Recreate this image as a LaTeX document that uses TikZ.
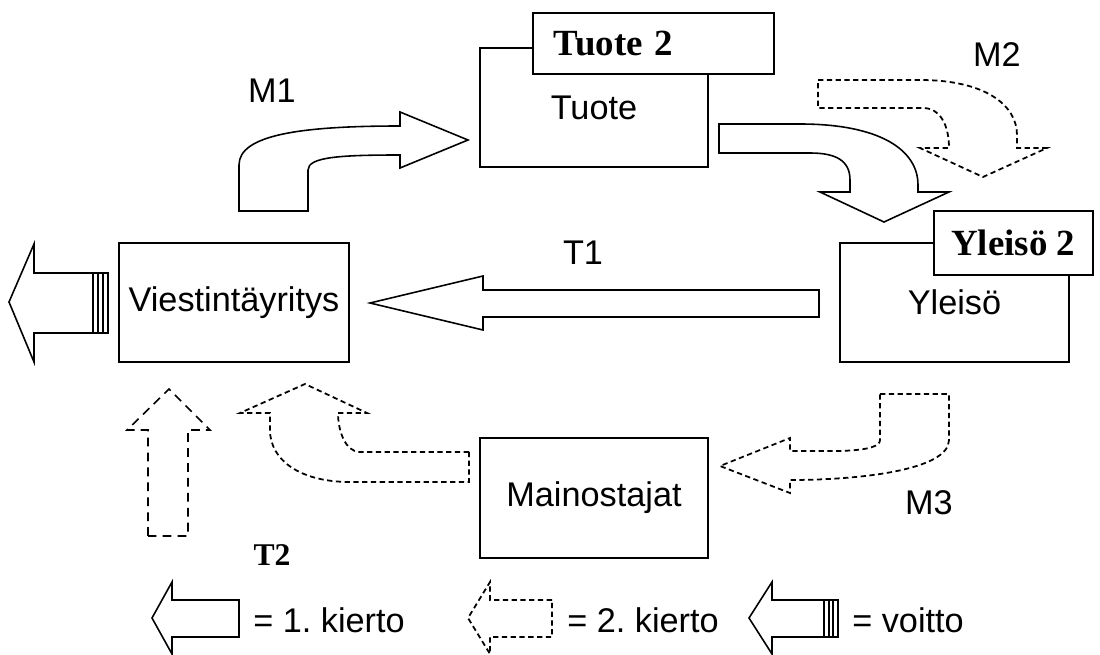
\documentclass[tikz,border=0pt]{standalone}
\usepackage{fontspec}
\setmainfont{Liberation Serif}
\setsansfont{Liberation Sans}
\frenchspacing
\tikzset{
  box/.style={draw,line width=0.9pt,minimum width=4.56cm,minimum height=2.38cm,font=\sffamily\fontsize{19.5}{22}\selectfont},
  tagbox/.style={draw,line width=0.9pt,fill=white,inner ysep=0pt,font=\bfseries\fontsize{21}{24}\selectfont},
  fatarrow/.style={draw,line width=0.9pt,line join=miter,fill=white},
  dasharrow/.style={fatarrow,line width=1pt,dash pattern=on 3pt off 2pt},
  longdash/.style={fatarrow,dash pattern=on 5pt off 3.5pt},
  lbl/.style={font=\sffamily\fontsize{19.5}{22}\selectfont,inner sep=0pt},
  tlbl/.style={font=\bfseries\fontsize{18}{20}\selectfont,inner sep=0pt}
}
\begin{document}
\begin{tikzpicture}[x=0.02cm,y=-0.02cm]
  \useasboundingbox (0,0) rectangle (1100,655);
  % boxes
  \node[box,minimum width=4.6cm] (vy) at (234,302.5) {Viestintäyritys};
  \node[box] (tuote) at (594,107.5) {Tuote};
  \node[box,minimum width=4.58cm] (yleiso) at (954.5,302.5) {Yleisö};
  \node[box,minimum height=2.4cm] (mainos) at (594,498) {Mainostajat};
  \node[tagbox,anchor=north west,text width=3.98cm,inner xsep=0.42cm,align=left,minimum height=1.22cm] (tuote2) at (532,12) {Tuote 2};
  \node[tagbox,anchor=north west,minimum width=3.18cm,minimum height=1.28cm] (yleiso2) at (933,210) {Yleisö 2};
  % 1. kierto
  \draw[fatarrow] (239,211) -- (239,165) .. controls (239,135) and (300,126) .. (400,126)
    -- (400,112) -- (468,140) -- (400,168) -- (400,155)
    .. controls (340,155) and (308,157) .. (308,170) -- (308,211) -- cycle;
  \draw[fatarrow] (719,124) -- (800,124) .. controls (880,124) and (918,150) .. (918,185)
    -- (918,192) -- (949,192) -- (884,222) -- (820,192) -- (850,192) -- (850,180)
    .. controls (850,160) and (835,153) .. (810,153) -- (719,153) -- cycle;
  \draw[fatarrow] (819,290) -- (483,290) -- (483,276) -- (370,303) -- (483,330)
    -- (483,317) -- (819,317) -- cycle;
  % 2. kierto
  \draw[dasharrow] (818,80) -- (920,80) .. controls (985,80) and (1017,105) .. (1017,135)
    -- (1017,148) -- (1047,148) -- (983,177) -- (920,148) -- (949,148)
    .. controls (949,125) and (940,108) .. (923,108) -- (818,108) -- cycle;
  \draw[dasharrow] (880,394) -- (949,394) -- (949,440) .. controls (949,470) and (860,480) .. (790,480)
    -- (790,493) -- (720,466) -- (790,438) -- (790,451) -- (840,451)
    .. controls (870,450) and (880,446) .. (880,440) -- cycle;
  \draw[dasharrow] (469,452) -- (360,452) .. controls (345,452) and (338,430) .. (338,413)
    -- (367,413) -- (305,384) -- (240,413) -- (270,413) -- (270,430)
    .. controls (270,460) and (300,482) .. (350,482) -- (469,482) -- cycle;
  \draw[longdash] (148,536) -- (148,430) -- (127,430) -- (169,389) -- (210,430)
    -- (188,430) -- (188,536) -- cycle;
  % voitto
  \draw[fatarrow] (93,273) -- (34,273) -- (34,244) -- (9,302) -- (34,362) -- (34,333)
    -- (93,333) -- cycle;
  \draw[line width=0.9pt] (93,273) rectangle (108,333) (98,273) -- (98,333) (103,273) -- (103,333);
  % labels
  \node[lbl] (m1) at (272,91) {M1};
  \node[lbl] (m2) at (997,55) {M2};
  \node[lbl] (t1) at (583,253) {T1};
  \node[lbl] (m3) at (929,503) {M3};
  \node[tlbl] (t2) at (272,555) {T2};
  % selitteet
  \draw[fatarrow] (239,600) -- (172,600) -- (172,582) -- (152,618) -- (172,654) -- (172,637)
    -- (239,637) -- cycle;
  \node[lbl,anchor=west] (kierto1) at (253,620) {= 1. kierto};
  \draw[dasharrow] (552,600) -- (490,600) -- (490,582) -- (468,618) -- (490,654) -- (490,637)
    -- (552,637) -- cycle;
  \node[lbl,anchor=west] (kierto2) at (567,620) {= 2. kierto};
  \draw[fatarrow] (824,600) -- (772,600) -- (772,582) -- (749,618) -- (772,654) -- (772,637)
    -- (824,637) -- cycle;
  \draw[line width=0.9pt] (824,600) rectangle (838,637) (829,600) -- (829,637) (833,600) -- (833,637);
  \node[lbl,anchor=west] (voitto) at (852,620) {= voitto};
\end{tikzpicture}
\end{document}
